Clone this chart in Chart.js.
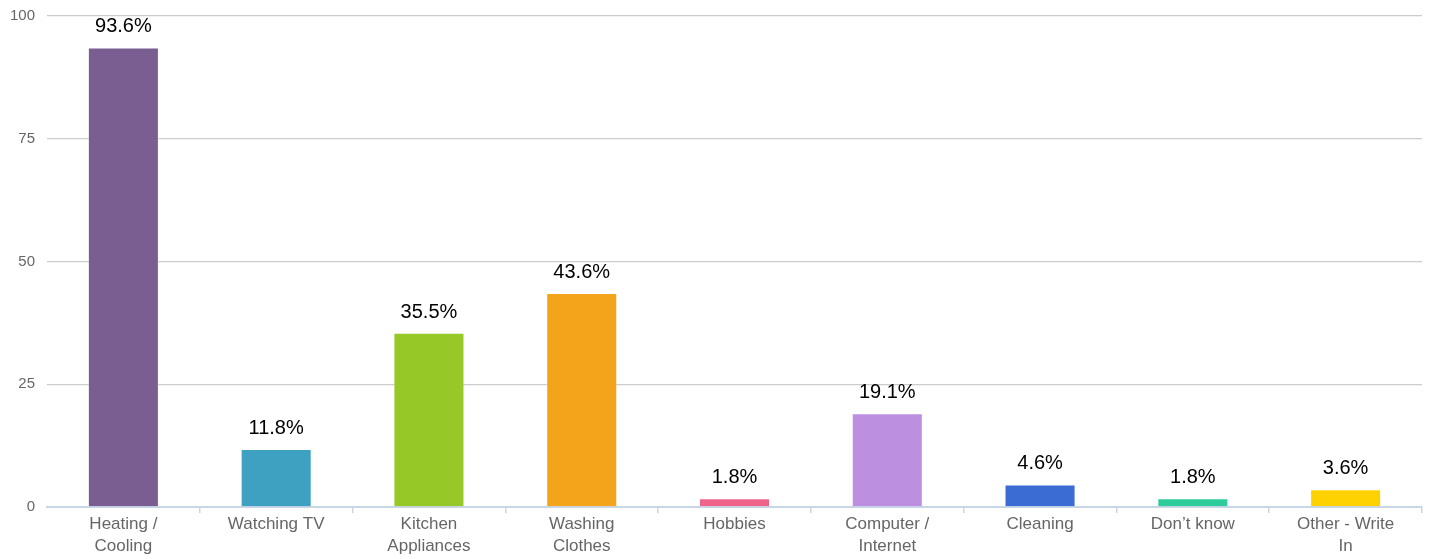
<!DOCTYPE html>
<html>
<head>
<meta charset="utf-8">
<script src="https://cdn.jsdelivr.net/npm/chart.js@4/dist/chart.umd.min.js"></script>
<style>
  html, body { margin: 0; padding: 0; background: #fff; }
  #wrap { width: 1432px; height: 559px; }
</style>
</head>
<body>
<div id="wrap"><canvas id="myChart"></canvas></div>
<script>
const categorias = [
  ["Heating /", "Cooling"],
  "Watching TV",
  ["Kitchen", "Appliances"],
  ["Washing", "Clothes"],
  "Hobbies",
  ["Computer /", "Internet"],
  "Cleaning",
  "Don’t know",
  ["Other - Write", "In"],
];
const valores = [93.6, 11.8, 35.5, 43.6, 1.8, 19.1, 4.6, 1.8, 3.6];
const cores = [
  "#7b5e91", "#3ea1c1", "#96c827", "#f4a41b", "#f0648a",
  "#bc8fe0", "#3a6cd3", "#2fcc9b", "#fdd200",
];
const ticksY = [0, 25, 50, 75, 100];

// rótulos de porcentagem acima das barras
const rotulosPlugin = {
  id: "rotulos",
  afterDatasetsDraw(chart) {
    const ctx = chart.ctx;
    const meta = chart.getDatasetMeta(0);
    ctx.save();
    ctx.font = "20px 'Liberation Sans', Arial, sans-serif";
    ctx.fillStyle = "#000";
    ctx.textAlign = "center";
    ctx.textBaseline = "alphabetic";
    meta.data.forEach((bar, i) => {
      ctx.fillText(valores[i].toFixed(1) + "%", bar.x, bar.y - 15);
    });
    ctx.restore();
  },
};

const ctx = document.getElementById("myChart");

new Chart(ctx, {
  type: "bar",
  data: {
    labels: categorias,
    datasets: [
      {
        data: valores,
        backgroundColor: cores,
        borderColor: "rgba(255,255,255,0.35)",
        borderWidth: 1,
        barPercentage: 0.465,
        categoryPercentage: 1,
      },
    ],
  },
  options: {
    responsive: true,
    maintainAspectRatio: false,
    animation: false,
    layout: {
      padding: { top: 16, right: 10, bottom: 0, left: 0 },
    },
    plugins: {
      legend: { display: false },
      tooltip: { enabled: false },
    },
    scales: {
      x: {
        grid: {
          offset: true,
          drawOnChartArea: false,
          color: (c) =>
            c.index === 0 || c.index === categorias.length
              ? "rgba(0,0,0,0)"
              : "#c8d6e6",
          tickLength: 6,
          lineWidth: 1.5,
        },
        border: { color: "#c8d6e6", width: 2 },
        ticks: {
          color: "#666",
          font: {
            family: "'Liberation Sans', Arial, sans-serif",
            size: 17,
            lineHeight: 1.3,
          },
          maxRotation: 0,
          autoSkip: false,
          padding: 0,
        },
        afterFit: (scale) => {
          scale.height = 52;
          scale.paddingLeft = 0;
          scale.paddingRight = 0;
        },
      },
      y: {
        min: 0,
        max: 100,
        afterBuildTicks: (scale) => {
          scale.ticks = ticksY.map((v) => ({ value: v }));
        },
        grid: {
          color: "#cccccc",
          drawTicks: false,
          lineWidth: 1.3,
        },
        border: { display: false },
        ticks: {
          color: "#666",
          font: { family: "'Liberation Sans', Arial, sans-serif", size: 15 },
          padding: 12,
        },
        afterFit: (scale) => {
          scale.width = 47;
          scale.paddingTop = 0;
          scale.paddingBottom = 0;
        },
      },
    },
  },
  plugins: [rotulosPlugin],
});
</script>
</body>
</html>
